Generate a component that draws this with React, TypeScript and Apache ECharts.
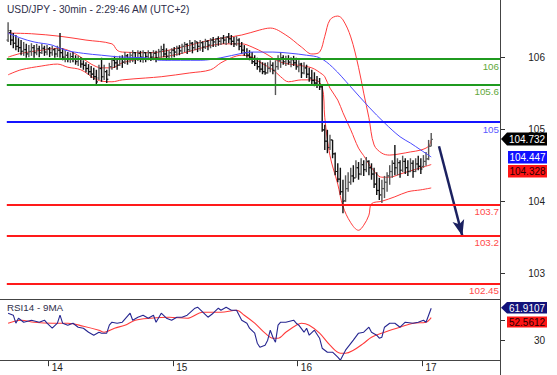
import { useEffect, useRef } from 'react';
import * as echarts from 'echarts';

// ---------- texts ----------
const chartTitle = 'USD/JPY - 30min - 2:29:46 AM (UTC+2)';
const rsiTitle = 'RSI14 - 9MA';

// ---------- x axis ----------
const slotCount = 190; // 30-min slots incl. empty right margin
const dayLabels = ['14', '15', '16', '17'];
const dayStartIndex = [16, 64, 112, 160];

// ---------- y axis ticks ----------
const priceTicks = [103, 104, 105, 106];
const rsiTicks = [30, 50];
const rsiLabelTicks = [30];

// ---------- OHLC bars: [open, close, low, high] ----------
const ohlc: number[][] = [
  [106.30,106.45,106.27,106.58],[106.42,106.30,106.22,106.46],[106.30,106.25,106.17,106.41],[106.25,106.20,106.14,106.38],
  [106.20,106.18,106.11,106.33],[106.18,106.12,106.06,106.30],[106.12,106.15,106.05,106.27],[106.15,106.08,106.02,106.24],
  [106.08,106.12,106.03,106.22],[106.12,106.18,106.05,106.25],[106.18,106.10,106.02,106.22],[106.10,106.16,106.06,106.24],
  [106.16,106.10,106.03,106.21],[106.10,106.17,106.08,106.24],[106.17,106.11,106.05,106.21],[106.11,106.16,106.06,106.22],
  [106.16,106.10,106.03,106.19],[106.10,106.15,106.05,106.21],[106.15,106.08,106.02,106.17],[106.08,106.14,106.03,106.21],
  [106.14,106.10,106.02,106.41],[106.10,106.03,105.98,106.17],[106.03,106.06,105.95,106.14],[106.06,106.00,105.95,106.11],
  [106.00,106.04,105.94,106.10],[106.04,106.00,105.95,106.11],[106.00,105.96,105.91,106.06],[105.96,106.00,105.89,106.05],
  [106.00,105.92,105.86,106.03],[105.92,105.90,105.83,105.98],[105.90,105.85,105.79,105.95],[105.85,105.80,105.75,105.92],
  [105.80,105.76,105.70,105.89],[105.76,105.72,105.67,105.86],[105.72,105.64,105.59,105.83],[105.70,105.85,105.67,105.91],
  [105.85,105.72,105.64,106.02],[105.72,105.80,105.67,105.91],[105.80,105.68,105.62,105.83],[105.75,105.88,105.73,105.94],
  [105.88,105.98,105.83,106.02],[105.98,105.94,105.86,106.05],[105.94,105.90,105.83,106.02],[105.90,106.00,105.89,106.05],
  [106.00,105.95,105.86,106.06],[105.95,106.05,105.92,106.11],[106.05,106.00,105.91,106.08],[106.00,106.06,105.94,106.11],
  [106.06,106.10,105.95,106.14],[106.10,106.02,105.92,106.11],[106.02,106.09,105.97,106.14],[106.09,106.03,105.95,106.13],
  [106.03,106.10,105.94,106.14],[106.10,106.04,105.95,106.11],[106.04,106.10,105.98,106.14],[106.10,106.03,105.97,106.11],
  [106.03,106.09,105.98,106.14],[106.09,106.02,105.95,106.13],[106.02,106.12,105.98,106.16],[106.12,106.15,106.02,106.21],
  [106.15,106.08,106.03,106.24],[106.08,106.04,105.98,106.17],[106.04,106.10,105.98,106.14],[106.10,106.14,106.02,106.17],
  [106.14,106.11,106.03,106.19],[106.11,106.17,106.05,106.21],[106.17,106.13,106.06,106.22],[106.13,106.20,106.08,106.24],
  [106.20,106.23,106.11,106.27],[106.23,106.15,106.08,106.25],[106.15,106.25,106.11,106.30],[106.25,106.18,106.09,106.27],
  [106.18,106.27,106.14,106.30],[106.27,106.20,106.11,106.27],[106.20,106.26,106.13,106.30],[106.26,106.19,106.11,106.28],
  [106.19,106.28,106.16,106.32],[106.28,106.22,106.14,106.30],[106.22,106.30,106.17,106.33],[106.30,106.27,106.19,106.35],
  [106.27,106.32,106.19,106.33],[106.32,106.28,106.21,106.36],[106.28,106.33,106.22,106.35],[106.33,106.30,106.24,106.38],
  [106.30,106.35,106.22,106.36],[106.35,106.32,106.25,106.41],[106.32,106.28,106.22,106.38],[106.28,106.24,106.19,106.35],
  [106.24,106.30,106.21,106.36],[106.30,106.20,106.14,106.33],[106.20,106.14,106.08,106.27],[106.14,106.10,106.05,106.22],
  [106.10,106.06,106.02,106.17],[106.06,106.02,105.98,106.14],[106.02,105.96,105.92,106.11],[105.96,105.93,105.89,106.06],
  [105.93,105.88,105.83,106.02],[105.88,105.84,105.79,105.98],[105.84,105.80,105.76,105.95],[105.80,105.78,105.75,105.94],
  [105.78,105.85,105.77,105.95],[105.85,105.90,105.79,105.98],[105.90,105.82,105.76,105.95],[105.82,105.88,105.43,105.98],
  [105.88,105.98,105.83,106.06],[105.98,106.02,105.86,106.11],[106.02,105.96,105.91,106.06],[105.96,106.00,105.89,106.05],
  [106.00,105.95,105.91,106.06],[105.95,105.99,105.87,106.03],[105.99,105.94,105.89,106.05],[105.94,105.88,105.83,106.02],
  [105.88,105.92,105.79,105.98],[105.92,105.78,105.70,105.94],[105.78,105.86,105.76,105.95],[105.86,105.76,105.70,105.91],
  [105.76,105.70,105.64,105.86],[105.70,105.66,105.60,105.83],[105.66,105.62,105.57,105.79],[105.62,105.59,105.54,105.73],
  [105.59,105.56,105.51,105.70],[105.56,104.88,104.85,105.60],[104.88,104.70,104.56,104.96],[104.70,104.60,104.51,104.88],
  [104.60,104.72,104.56,104.80],[104.72,104.50,104.43,104.72],[104.50,104.22,104.16,104.52],[104.22,104.10,104.05,104.35],
  [104.10,103.90,103.85,104.28],[103.90,103.75,103.56,104.09],[103.76,103.95,103.74,104.16],[103.95,104.05,103.90,104.21],
  [104.05,104.15,104.01,104.28],[104.15,104.12,104.05,104.32],[104.12,104.28,104.12,104.40],[104.28,104.18,104.09,104.37],
  [104.18,104.33,104.16,104.43],[104.33,104.25,104.15,104.40],[104.25,104.38,104.21,104.45],[104.38,104.28,104.16,104.40],
  [104.28,104.18,104.09,104.35],[104.18,104.02,103.96,104.28],[104.02,103.92,103.85,104.21],[103.92,103.85,103.77,104.12],
  [103.85,103.95,103.72,104.09],[103.95,104.05,103.80,104.15],[104.05,104.15,103.90,104.21],[104.15,104.22,104.01,104.32],
  [104.22,104.35,104.12,104.40],[104.35,104.28,104.16,104.64],[104.28,104.36,104.16,104.43],[104.36,104.24,104.12,104.40],
  [104.24,104.38,104.21,104.47],[104.38,104.28,104.18,104.43],[104.28,104.22,104.15,104.40],[104.22,104.35,104.21,104.43],
  [104.35,104.22,104.12,104.40],[104.22,104.34,104.21,104.43],[104.34,104.30,104.24,104.47],[104.30,104.26,104.18,104.43],
  [104.30,104.38,104.28,104.48],[104.38,104.42,104.31,104.53],[104.42,104.62,104.40,104.72],[104.62,104.73,104.62,104.83],
];

// ---------- indicators: [bar index, value] ----------
const upperBand = [[0,106.41],[9,106.40],[20,106.36],[30,106.30],[40,106.24],[42,106.14],[44,106.11],[55,106.10],[67,106.19],[78,106.30],[90,106.38],[97,106.46],[101,106.49],[107,106.38],[113,106.19],[117,106.08],[120,106.11],[122,106.36],[124,106.62],[127,106.68],[129,106.62],[132,106.35],[135,105.87],[137,105.46],[139,105.07],[141,104.64],[144,104.51],[147,104.48],[151,104.50],[155,104.53],[159,104.56],[162,104.62],[163,104.72]];
const middleBand = [[0,106.03],[5,106.09],[13,106.14],[19,106.17],[23,106.14],[28,106.03],[32,105.92],[36,105.86],[40,105.86],[44,105.94],[51,106.00],[59,106.03],[67,106.09],[74,106.17],[83,106.24],[90,106.24],[94,106.19],[99,106.09],[105,105.95],[112,105.90],[117,105.86],[121,105.76],[122,105.72],[124,105.54],[127,105.35],[129,105.15],[132,104.88],[135,104.59],[137,104.47],[140,104.28],[144,104.13],[147,104.13],[151,104.18],[155,104.23],[159,104.28],[163,104.33]];
const lowerBand = [[0,105.75],[5,105.83],[13,105.89],[19,105.92],[23,105.87],[28,105.83],[33,105.70],[36,105.65],[40,105.64],[44,105.67],[53,105.70],[59,105.72],[70,105.78],[78,105.83],[82,105.94],[86,106.02],[90,106.06],[94,106.03],[97,105.95],[102,105.83],[105,105.72],[108,105.64],[113,105.67],[118,105.67],[121,105.56],[122,105.07],[124,104.47],[127,104.02],[129,103.67],[132,103.41],[135,103.29],[137,103.37],[139,103.53],[140,103.71],[144,103.75],[149,103.82],[154,103.90],[159,103.93],[163,103.96]];
const maLine = [[0,106.41],[5,106.33],[10,106.27],[17,106.22],[22,106.14],[29,106.09],[36,106.06],[44,106.03],[53,106.02],[59,105.98],[74,105.98],[82,106.02],[90,106.09],[94,106.11],[102,106.11],[109,106.09],[115,106.06],[120,106.02],[125,105.87],[132,105.56],[139,105.24],[145,104.99],[151,104.77],[155,104.67],[159,104.56],[163,104.45]];

const rsi = [[0,57],[2,55],[3,47],[4,52],[6,48],[9,50],[12,48],[14,50],[15,47],[17,42],[19,47],[20,55],[21,47],[23,45],[25,47],[27,43],[29,42],[31,38],[33,35],[35,38],[36,37],[38,37],[39,45],[40,48],[42,47],[44,48],[47,57],[48,50],[50,53],[52,55],[54,52],[56,55],[57,48],[59,57],[61,52],[63,50],[65,53],[67,53],[69,55],[72,62],[73,63],[75,58],[77,53],[79,57],[81,62],[82,60],[84,63],[86,60],[88,60],[90,50],[92,47],[93,42],[95,37],[96,27],[97,23],[99,25],[100,30],[101,40],[102,33],[103,28],[104,45],[105,48],[107,48],[110,50],[111,47],[112,45],[114,38],[115,42],[116,35],[118,40],[120,32],[121,22],[123,18],[125,18],[127,13],[128,10],[130,20],[133,30],[135,37],[137,38],[139,43],[140,38],[142,35],[143,32],[144,33],[145,43],[147,47],[149,47],[151,43],[153,48],[156,47],[158,48],[160,50],[161,48],[162,55],[163,61.91]];
const rsiMa = [[0,47],[5,50],[10,48],[17,47],[23,47],[29,44],[35,40],[37,38],[41,42],[45,45],[49,50],[55,52],[62,53],[69,52],[75,58],[82,58],[88,60],[91,55],[95,47],[99,37],[102,32],[104,32],[107,38],[111,45],[113,47],[116,45],[120,37],[124,25],[128,17],[130,17],[133,20],[137,27],[140,33],[145,38],[151,43],[156,47],[161,48],[163,52.56]];

// ---------- support / resistance levels ----------
const levelValues = [106, 105.6, 105, 103.7, 103.2, 102.45];
const levelLabels = ['106', '105.6', '105', '103.7', '103.2', '102.45'];

// ---------- forecast arrow (bar index, price) ----------
const arrowFrom = [166, 104.62];
const arrowTo = [175, 103.2];

// ---------- value tags ----------
const lastPriceTag = '104.732';
const maTag = '104.447';
const midBandTag = '104.328';
const rsiTag = '61.9107';
const rsiMaTag = '52.5612';

// ---------- styles ----------
const FONT = '"Liberation Sans", Arial, Helvetica, sans-serif';
const levelLineColors = ['#1f9a1f', '#1f9a1f', '#1414ff', '#ff1a1a', '#ff1a1a', '#ff1a1a'];
const levelTextColors = ['#62a83a', '#62a83a', '#5a5aff', '#ff4a4a', '#ff4a4a', '#ff4a4a'];

export default function App() {
  const ref = useRef<HTMLDivElement>(null);
  useEffect(() => {
    if (!ref.current) return;
    const chart = echarts.init(ref.current, undefined, { renderer: 'svg' });
    const cats = Array.from({ length: slotCount }, (_, i) => 'c' + i);
    const dayMap: Record<number, string> = {};
    dayStartIndex.forEach((idx, k) => { dayMap[idx] = dayLabels[k]; });

    const option: any = {
      animation: false,
      grid: [
        { left: 6.8, right: 57, top: 0, height: 299.3 },
        { left: 6.8, right: 57, top: 299.3, height: 60.9 },
      ],
      xAxis: [
        { type: 'category', gridIndex: 0, data: cats, boundaryGap: true, show: false },
        {
          type: 'category', gridIndex: 1, data: cats, boundaryGap: true,
          axisLine: { show: false },
          axisTick: { show: true, length: 6, interval: (i: number) => dayMap[i] !== undefined, lineStyle: { color: '#333', width: 1 } },
          axisLabel: {
            show: true, interval: (i: number) => dayMap[i] !== undefined,
            formatter: (_v: string, i: number) => dayMap[i] ?? '',
            align: 'left', padding: [0, 0, 0, 2], margin: 2,
            color: '#222', fontSize: 10, fontFamily: FONT,
          },
          splitLine: { show: false },
        },
      ],
      yAxis: [
        {
          type: 'value', gridIndex: 0, position: 'right', min: 102.639, max: 106.796,
          axisLine: { show: false }, splitLine: { show: false },
          axisTick: { show: true, length: 5, customValues: priceTicks, lineStyle: { color: '#333' } },
          axisLabel: { show: true, customValues: priceTicks, margin: 45, align: 'right', color: '#222', fontSize: 10, fontFamily: FONT },
        },
        { type: 'value', gridIndex: 0, position: 'right', min: 102.198, max: 106.934, show: false },
        {
          type: 'value', gridIndex: 1, position: 'right', min: 10, max: 70.9,
          axisLine: { show: false }, splitLine: { show: false },
          axisTick: { show: true, length: 5, customValues: rsiTicks, lineStyle: { color: '#333' } },
          axisLabel: { show: true, customValues: rsiLabelTicks, margin: 45, align: 'right', color: '#222', fontSize: 10, fontFamily: FONT },
        },
      ],
      series: [
        {
          name: 'upper', type: 'line', xAxisIndex: 0, yAxisIndex: 1, data: upperBand, showSymbol: false,
          smooth: 0.35, lineStyle: { color: '#ff3b3b', width: 1 }, z: 2,
        },
        {
          name: 'middle', type: 'line', xAxisIndex: 0, yAxisIndex: 1, data: middleBand, showSymbol: false,
          smooth: 0.35, lineStyle: { color: '#ff3b3b', width: 1 }, z: 2,
          markLine: {
            silent: true, animation: false,
            data: [[
              { coord: arrowFrom, symbol: 'none' },
              { coord: arrowTo, symbol: 'arrow', symbolSize: [9, 16] },
            ]],
            lineStyle: { color: '#1b2160', width: 2.5, type: 'solid' },
            label: { show: false },
          },
        },
        {
          name: 'lower', type: 'line', xAxisIndex: 0, yAxisIndex: 1, data: lowerBand, showSymbol: false,
          smooth: 0.35, lineStyle: { color: '#ff3b3b', width: 1 }, z: 2,
        },
        {
          name: 'ohlc', type: 'custom', xAxisIndex: 0, yAxisIndex: 1, z: 3,
          data: ohlc.map((d, i) => [i, d[0], d[1], d[2], d[3]]),
          encode: { x: 0, y: [1, 2, 3, 4] },
          renderItem: (_params: any, api: any) => {
            const i = api.value(0);
            const o = api.coord([i, api.value(1)]);
            const c = api.coord([i, api.value(2)]);
            const l = api.coord([i, api.value(3)]);
            const h = api.coord([i, api.value(4)]);
            const up = api.value(2) >= api.value(1);
            const stroke = up ? '#555' : '#111';
            const tw = 1.6;
            return {
              type: 'group',
              children: [
                { type: 'line', shape: { x1: h[0], y1: h[1], x2: l[0], y2: l[1] }, style: { stroke, lineWidth: 1.4 } },
                { type: 'line', shape: { x1: o[0] - tw, y1: o[1], x2: o[0], y2: o[1] }, style: { stroke, lineWidth: 1.2 } },
                { type: 'line', shape: { x1: c[0], y1: c[1], x2: c[0] + tw, y2: c[1] }, style: { stroke, lineWidth: 1.2 } },
              ],
            };
          },
        },
        {
          name: 'ma', type: 'line', xAxisIndex: 0, yAxisIndex: 1, data: maLine, showSymbol: false,
          smooth: 0.35, lineStyle: { color: '#4a4aff', width: 1 }, z: 4,
          markLine: {
            silent: true, animation: false, symbol: ['none', 'none'],
            data: levelValues.map((v, k) => ({
              yAxis: v,
              lineStyle: { color: levelLineColors[k], width: 2, type: 'solid' },
              label: {
                show: true, position: 'insideEndBottom', formatter: levelLabels[k],
                color: levelTextColors[k], fontSize: 9.8, fontFamily: FONT, distance: [1, 2],
              },
            })),
          },
        },
        {
          name: 'rsi', type: 'line', xAxisIndex: 1, yAxisIndex: 2, data: rsi, showSymbol: false,
          lineStyle: { color: '#262690', width: 1.1 }, z: 3,
        },
        {
          name: 'rsiMa', type: 'line', xAxisIndex: 1, yAxisIndex: 2, data: rsiMa, showSymbol: false,
          smooth: 0.35, lineStyle: { color: '#ff3b3b', width: 1.1 }, z: 2,
        },
      ],
      graphic: [
        { type: 'text', x: 7, y: 9.5, z: 100, style: { text: chartTitle, fill: '#2e2e4a', font: `10.2px ${FONT}`, verticalAlign: 'middle' } },
        { type: 'text', x: 7, y: 307, z: 100, style: { text: rsiTitle, fill: '#2e2e4a', font: `9.8px ${FONT}`, verticalAlign: 'middle' } },
        { type: 'line', z: 100, shape: { x1: 0, y1: 299.5, x2: 500, y2: 299.5 }, style: { stroke: '#444', lineWidth: 1 } },
        { type: 'line', z: 100, shape: { x1: 0, y1: 360.5, x2: 500, y2: 360.5 }, style: { stroke: '#444', lineWidth: 1 } },
        { type: 'line', z: 100, shape: { x1: 500.5, y1: 0, x2: 500.5, y2: 375 }, style: { stroke: '#444', lineWidth: 1 } },
        // price tags
        { type: 'polygon', z: 101, shape: { points: [[501, 139], [507, 132.5], [547, 132.5], [547, 145.5], [507, 145.5]] }, style: { fill: '#000' } },
        { type: 'text', z: 102, x: 527, y: 139.3, style: { text: lastPriceTag, fill: '#fff', font: `10px ${FONT}`, align: 'center', verticalAlign: 'middle' } },
        { type: 'rect', z: 101, shape: { x: 508, y: 151, width: 39, height: 12.5 }, style: { fill: '#1010ff' } },
        { type: 'text', z: 102, x: 527.5, y: 157.4, style: { text: maTag, fill: '#fff', font: `10px ${FONT}`, align: 'center', verticalAlign: 'middle' } },
        { type: 'rect', z: 101, shape: { x: 508, y: 165, width: 39, height: 12.5 }, style: { fill: '#ff1414' } },
        { type: 'text', z: 102, x: 527.5, y: 171.4, style: { text: midBandTag, fill: '#2a0000', font: `10px ${FONT}`, align: 'center', verticalAlign: 'middle' } },
        // rsi tags
        { type: 'polygon', z: 101, shape: { points: [[501, 307.7], [507, 302], [547, 302], [547, 313.5], [507, 313.5]] }, style: { fill: '#12127a' } },
        { type: 'text', z: 102, x: 527, y: 308, style: { text: rsiTag, fill: '#fff', font: `10px ${FONT}`, align: 'center', verticalAlign: 'middle' } },
        { type: 'rect', z: 101, shape: { x: 507, y: 316.5, width: 40, height: 11 }, style: { fill: '#ff1414' } },
        { type: 'text', z: 102, x: 527, y: 322.2, style: { text: rsiMaTag, fill: '#2a0000', font: `10px ${FONT}`, align: 'center', verticalAlign: 'middle' } },
      ],
    };
    chart.setOption(option);
    return () => chart.dispose();
  }, []);
  return <div ref={ref} style={{ width: 557, height: 375, position: 'absolute', left: 0, top: 0, background: '#fff' }} />;
}
